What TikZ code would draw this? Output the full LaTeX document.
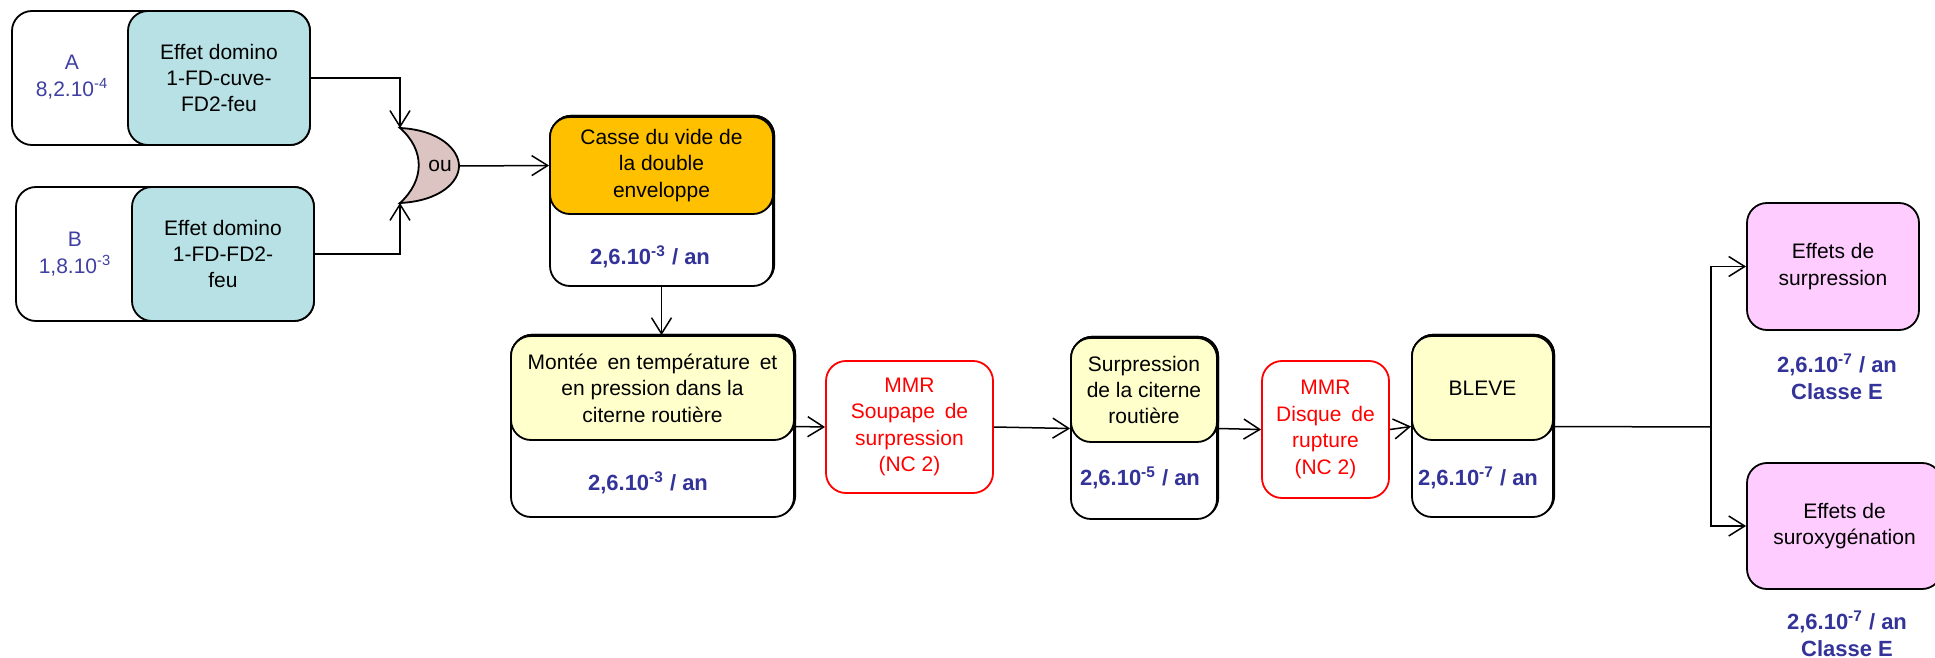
\documentclass[tikz,border=0pt]{standalone}
\usepackage{fontspec}
\setmainfont{Liberation Sans}
\usetikzlibrary{arrows.meta,shadows}
\definecolor{tealc}{HTML}{B7E1E4}
\definecolor{orangec}{HTML}{FFC000}
\definecolor{yellowc}{HTML}{FFFFCC}
\definecolor{pinkc}{HTML}{FFCCFF}
\definecolor{gatec}{HTML}{DBC4C1}
\definecolor{bluet}{HTML}{3F3FA3}
\definecolor{rateblue}{HTML}{333399}
\definecolor{mmrred}{HTML}{FF0000}
\begin{document}
\begin{tikzpicture}[x=0.5pt,y=-0.5pt,
  every node/.style={font=\fontsize{10.5}{13.2}\selectfont, align=center},
  placed/.style n args={4}{at={({(#1+#3)/2},{(#2+#4)/2})}, minimum width={(#3-#1)*0.5pt}, minimum height={(#4-#2)*0.5pt}},
  frame/.style={draw=black, line width=0.9pt, rounded corners=10pt, fill=white, inner sep=0pt},
  tealbox/.style={frame, fill=tealc},
  orangebox/.style={frame, fill=orangec, general shadow={fill=orangec, draw=black, line width=0.9pt, shadow xshift=0.6pt, shadow yshift=0.6pt}},
  yellowbox/.style={frame, fill=yellowc, general shadow={fill=yellowc, draw=black, line width=0.9pt, shadow xshift=0.6pt, shadow yshift=0.6pt}},
  outerbox/.style={frame, general shadow={fill=white, draw=black, line width=0.9pt, shadow xshift=0.6pt, shadow yshift=0.6pt}},
  pinkbox/.style={frame, fill=pinkc},
  mmrbox/.style={frame, draw=mmrred, text=mmrred},
  probtxt/.style={text=bluet, inner sep=0pt},
  ratetxt/.style={text=rateblue, inner sep=0pt, font=\fontsize{11}{13.5}\selectfont\bfseries},
  arr/.style={line width=0.75pt, -{Straight Barb[length=8pt,width=10pt,line width=0.75pt]}},
  ln/.style={line width=0.75pt}
]
\useasboundingbox (0,0) rectangle (1935,658);

% --- A ---
\node[frame, placed={12}{11}{310}{145}] (Aout) {};
\node[tealbox, placed={128}{11}{310}{145}] (Ain) {Effet domino\\1-FD-cuve-\\FD2-feu};
\node[probtxt] (Atxt) at (72,77) {A\\8,2.10\textsuperscript{-4}};
% --- B ---
\node[frame, placed={16}{187}{314}{321}] (Bout) {};
\node[tealbox, placed={132}{187}{314}{321}] (Bin) {Effet domino\\1-FD-FD2-\\feu};
\node[probtxt] (Btxt) at (75,254) {B\\1,8.10\textsuperscript{-3}};

% --- OR gate ---
\coordinate (orTop) at (400,128);
\coordinate (orBot) at (400,203);
\coordinate (orOut) at (459,166);
\draw[line width=0.9pt, fill=gatec] (orTop) .. controls (440,130) and (459,150) .. (orOut)
   .. controls (459,182) and (440,201) .. (orBot)
   .. controls (425,180) and (425,150) .. (orTop) -- cycle;
\node (orTxt) at (440,166) {ou};

% --- Casse ---
\node[outerbox, placed={550}{117}{773}{286}] (Cout) {};
\node[orangebox, placed={550}{117}{773}{214}] (Cin) {Casse du vide de\\la double\\enveloppe};
\node[ratetxt] (Crate) at (650,257) {2,6.10\textsuperscript{-3} / an};

% --- Montee ---
\node[outerbox, placed={511}{336}{794}{517}] (Mout) {};
\node[yellowbox, placed={511}{336}{794}{440}] (Min) {Mont\'ee\hspace{2pt} en temp\'erature\hspace{2pt} et\\en pression dans la\\citerne routi\`ere};
\node[ratetxt] (Mrate) at (648,483) {2,6.10\textsuperscript{-3} / an};

% --- MMR Soupape ---
\node[mmrbox, placed={826}{361}{993}{493}] (Soup) {MMR\\Soupape\hspace{2pt} de\\surpression\\(NC 2)};

% --- Surpression ---
\node[outerbox, placed={1071}{338}{1217}{519}] (Sout) {};
\node[yellowbox, placed={1071}{338}{1217}{442}] (Sin) {Surpression\\de la citerne\\routi\`ere};
\node[ratetxt] (Srate) at (1140,478) {2,6.10\textsuperscript{-5} / an};

% --- MMR Disque ---
\node[mmrbox, placed={1262}{361}{1389}{498}] (Disq) {MMR\\Disque\hspace{2pt} de\\rupture\\(NC 2)};

% --- BLEVE ---
\node[outerbox, placed={1412}{336}{1553}{517}] (BLout) {};
\node[yellowbox, placed={1412}{336}{1553}{440}] (BLin) {BLEVE};
\node[ratetxt] (BLrate) at (1478,478) {2,6.10\textsuperscript{-7} / an};

% --- Effets ---
\node[pinkbox, placed={1747}{203}{1919}{330}] (E1) {Effets de\\surpression};
\node[ratetxt] (E1rate) at (1837,377) {2,6.10\textsuperscript{-7} / an\\Classe E};
\node[pinkbox, placed={1747}{463}{1942}{589}] (E2) {Effets de\\suroxyg\'enation};
\node[ratetxt] (E2rate) at (1847,634) {2,6.10\textsuperscript{-7} / an\\Classe E};

% --- connectors ---
\draw[arr] (Ain.east) -| (orTop);
\draw[arr] (Bin.east) -| (orBot);
\draw[arr] (orOut) -- (Cin.west);
\draw[arr] (Cout.south) -- (Cout.south |- Mout.north);
\draw[arr] (Mout.east) -- (Soup.west);
\draw[arr] (Soup.east) -- (Sout.west);
\draw[arr] (Sout.east) -- (Disq.west);
\draw[arr] (Disq.east) -- (BLout.west);
\coordinate (split) at (1711,427);
\draw[ln] (BLout.east) -- (split);
\draw[arr] (split) |- (E1.west);
\draw[arr] (split) |- (E2.west);
\end{tikzpicture}
\end{document}
